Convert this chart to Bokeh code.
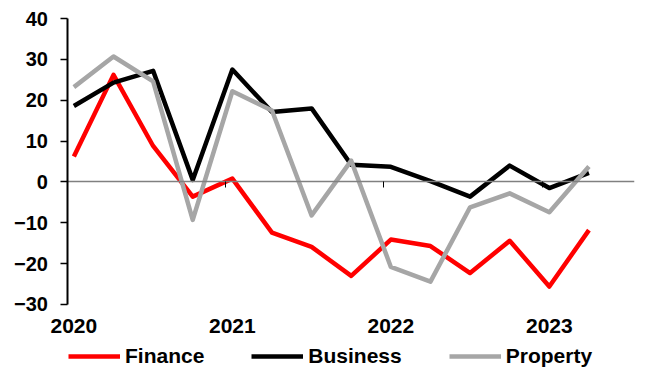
import numpy as np
from bokeh.plotting import figure
from bokeh.models import Range1d, FixedTicker, Legend, LegendItem, LinearAxis
from bokeh.embed import file_html
from bokeh.resources import INLINE

quarters = ["2020 Q1", "2020 Q2", "2020 Q3", "2020 Q4",
            "2021 Q1", "2021 Q2", "2021 Q3", "2021 Q4",
            "2022 Q1", "2022 Q2", "2022 Q3", "2022 Q4",
            "2023 Q1", "2023 Q2"]
finance = [6.2, 26.2, 8.8, -3.6, 0.8, -12.4, -15.9, -23.0, -14.1, -15.7, -22.3, -14.4, -25.6, -11.8]
business = [18.6, 24.3, 27.2, 0.5, 27.5, 17.1, 18.0, 4.2, 3.7, 0.2, -3.6, 4.0, -1.5, 2.2]
property_ = [23.2, 30.7, 24.6, -9.3, 22.2, 17.5, -8.2, 5.2, -20.8, -24.4, -6.2, -2.8, -7.4, 3.8]
series_names = ["Finance", "Business", "Property"]
series_colors = ["#FF0000", "#000000", "#A6A6A6"]
y_ticks = [-30, -20, -10, 0, 10, 20, 30, 40]

x = np.arange(len(quarters))
year_pos = [i for i, q in enumerate(quarters) if q.endswith("Q1")]
year_labels = {i: quarters[i][:4] for i in year_pos}
boundary = [i - 0.175 for i in year_pos[1:]]

FONT = "Liberation Sans"

# plot area (where the y axis sits) and the extra frame room for labels and legend
x_lo, x_hi = -0.15, len(quarters) - 1 + 1.15
p = figure(width=641, height=371, output_backend="svg", toolbar_location=None,
           x_range=Range1d(x_lo - 1.5, x_hi),
           y_range=Range1d(y_ticks[0] - 16.4, y_ticks[-1] + 3.43),
           min_border_left=8, min_border_right=7, min_border_top=4, min_border_bottom=0)
p.outline_line_color = None
p.grid.visible = False
p.background_fill_color = "white"
p.border_fill_color = "white"

# y axis at the left edge of the plot area
yax = p.yaxis[0]
yax.fixed_location = x_lo
yax.ticker = FixedTicker(ticks=y_ticks)
yax.bounds = (y_ticks[0], y_ticks[-1])
yax.axis_line_color = "black"
yax.axis_line_width = 2
yax.major_tick_line_color = "black"
yax.major_tick_line_width = 1.5
yax.major_tick_in = 0
yax.major_tick_out = 7
yax.minor_tick_line_color = None
yax.major_label_standoff = 13
yax.major_label_text_font = FONT
yax.major_label_text_font_style = "bold"
yax.major_label_text_font_size = "20px"
yax.major_label_text_color = "black"

# x axis: year labels drawn just under the lowest y tick
xax = p.xaxis[0]
xax.fixed_location = y_ticks[0]
xax.ticker = FixedTicker(ticks=year_pos)
xax.major_label_overrides = year_labels
xax.axis_line_color = None
xax.major_tick_line_color = None
xax.minor_tick_line_color = None
xax.major_tick_in = 0
xax.major_tick_out = 0
xax.major_label_standoff = 15
xax.major_label_text_font = FONT
xax.major_label_text_font_style = "bold"
xax.major_label_text_font_size = "21px"
xax.major_label_text_color = "black"

# zero line with year-boundary ticks
zax = LinearAxis(fixed_location=0, bounds=(x_lo, x_hi),
                 ticker=FixedTicker(ticks=boundary),
                 axis_line_color="#808080", axis_line_width=1.5,
                 major_tick_in=0, major_tick_out=6,
                 major_tick_line_color="black", major_tick_line_width=1,
                 minor_tick_line_color=None,
                 major_label_text_color=None)
p.add_layout(zax, "below")

renderers = []
for vals, color in zip([finance, business, property_], series_colors):
    r = p.line(x, vals, line_color=color, line_width=4.5, line_join="round")
    renderers.append(r)

legend = Legend(items=[LegendItem(label=n, renderers=[r]) for n, r in zip(series_names, renderers)],
                orientation="horizontal", location=(60, 3),
                spacing=47, glyph_width=52, glyph_height=20, label_standoff=5,
                padding=0, margin=0, border_line_color=None, background_fill_alpha=0,
                label_text_font=FONT, label_text_font_style="bold",
                label_text_font_size="21px", label_text_color="black")
p.add_layout(legend, "center")

open("out.html", "w").write(file_html(p, INLINE))
